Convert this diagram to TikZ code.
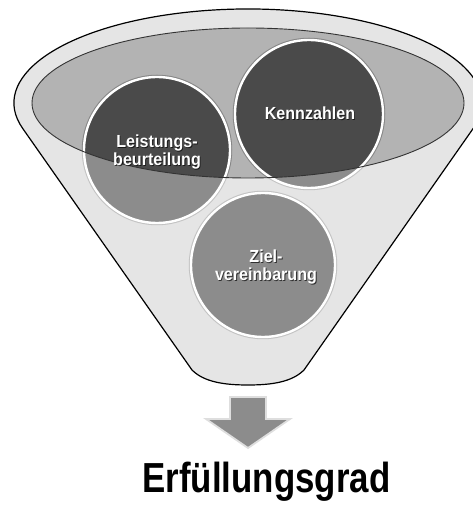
\documentclass[tikz,border=0pt]{standalone}
\usepackage{fontspec}
\setmainfont{Liberation Sans}
\usepackage{graphicx}
\definecolor{funnelgray}{HTML}{D6D6D6}
\definecolor{innergray}{HTML}{B3B3B3}
\definecolor{bubblegray}{HTML}{4A4A4A}
\definecolor{arrowgray}{HTML}{8C8C8C}
\definecolor{arrowrim}{HTML}{DEDEDE}
\newcommand{\lbltext}[1]{\scalebox{0.92}[1]{\begin{tabular}{@{}c@{}}#1\end{tabular}}}
\begin{document}
\begin{tikzpicture}[x=1pt,y=1pt,
  bubble/.style={circle, inner sep=0pt, fill=bubblegray, draw=white, line width=2.4pt,
     preaction={draw=black, opacity=0.25, line width=4.5pt}},
  lbl/.style={inner sep=0pt, text=white, font=\bfseries\fontsize{17.5}{18.5}\selectfont},
  lblshadow/.style={inner sep=0pt, text=black, opacity=0.65, font=\bfseries\fontsize{17.5}{18.5}\selectfont}]
\useasboundingbox (0,0) rectangle (473,511);
\clip (0,0) rectangle (473,511);
\def\funnelpath{(22.8,382.4) arc[start angle=195.81, end angle=-15.81, x radius=234, y radius=94]
  -- (304,141) .. controls (292,129) and (272,126) .. (248,126)
  .. controls (224,126) and (204,129) .. (192,141) -- cycle}
\def\innerpath{(248,408) ellipse[x radius=216, y radius=75]}
% funnel body and opening
\fill[funnelgray] \funnelpath;
\fill[innergray] \innerpath;
% bubbles
\node[bubble, minimum size=146pt] (lb) at (157,361) {};
\node[bubble, minimum size=148pt] (kz) at (309,397) {};
\node[bubble, minimum size=144pt] (zv) at (263,246) {};
% translucent front of funnel
\fill[white, opacity=0.37, even odd rule] \funnelpath \innerpath;
% outlines
\draw[black!80, line width=0.9pt] \innerpath;
\draw[black, line width=1.2pt] \funnelpath;
% labels
\node[lblshadow] (lbs) at (157.9,357.1) {\lbltext{Leistungs-\\beurteilung}};
\node[lbl] (lbt) at (157,358) {\lbltext{Leistungs-\\beurteilung}};
\node[lblshadow] (kzs) at (310.9,394.1) {\lbltext{Kennzahlen}};
\node[lbl] (kzt) at (310,395) {\lbltext{Kennzahlen}};
\node[lblshadow] (zvs) at (266.9,242.1) {\lbltext{Ziel-\\vereinbarung}};
\node[lbl] (zvt) at (266,243) {\lbltext{Ziel-\\vereinbarung}};
% arrow
\filldraw[fill=arrowgray, draw=arrowrim, line width=1.8pt, line join=miter]
  (230,114) -- (266,114) -- (266,92) -- (290,92) -- (248,63) -- (206,92) -- (230,92) -- cycle;
% result
\node[anchor=base, inner sep=0pt, font=\bfseries\fontsize{42}{42}\selectfont] (res) at (266.5,18)
  {\scalebox{0.83}[1]{Erfüllungsgrad}};
\end{tikzpicture}
\end{document}
